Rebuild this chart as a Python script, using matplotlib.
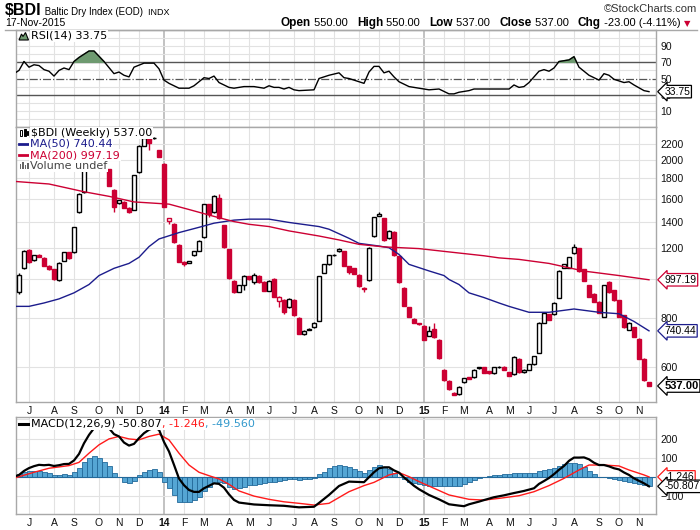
import numpy as np
import pandas as pd
import matplotlib
matplotlib.use('Agg')
import matplotlib.pyplot as plt
import matplotlib.transforms as mtrans
from matplotlib.patches import Polygon, Rectangle
from matplotlib.lines import Line2D
from matplotlib.ticker import NullLocator, NullFormatter

plt.rcParams['font.family'] = ['Liberation Sans', 'DejaVu Sans']

# weekly bars, June 2013 .. Nov 2015
weeks = pd.date_range('2013-06-17', periods=127, freq='W-MON')

opens = [926, 1065, 1185, 1116, 1155, 1135, 1080, 1060, 995, 1115,
         1170, 1170, 1479, 1662, 1902, 1985, 2110, 1984, 1902, 1682,
         1562, 1570, 1515, 1500, 1866, 2178, 2290, 2275, 2127, 1960,
         1402, 1378, 1219, 1105, 1100, 1150, 1180, 1277, 1550, 1479,
         1605, 1370, 1191, 990, 930, 965, 1017, 983, 1020, 985,
         935, 1000, 880, 888, 850, 888, 799, 725, 745, 755,
         786, 1039, 1091, 1150, 1177, 1177, 1080, 1065, 1028, 953,
         995, 1285, 1450, 1427, 1270, 1320, 1143, 953, 850, 795,
         775, 763, 720, 750, 703, 590, 553, 515, 512, 548,
         565, 565, 595, 598, 585, 578, 598, 600, 582, 576,
         630, 582, 590, 610, 651, 776, 815, 815, 899, 1070,
         1070, 1164, 1198, 1060, 965, 920, 878, 804, 983, 940,
         885, 810, 744, 755, 708, 630, 550]
highs = [1035, 1185, 1190, 1155, 1160, 1140, 1085, 1062, 1105, 1175,
         1175, 1360, 1650, 1910, 1990, 2115, 2115, 1990, 1905, 1690,
         1590, 1575, 1520, 1840, 2185, 2337, 2295, 2290, 2130, 1965,
         1430, 1385, 1225, 1115, 1115, 1180, 1255, 1555, 1555, 1630,
         1640, 1375, 1195, 995, 968, 1025, 1020, 1035, 1025, 990,
         995, 1005, 905, 890, 895, 890, 802, 742, 752, 780,
         1020, 1095, 1152, 1158, 1200, 1180, 1082, 1068, 1030, 956,
         1205, 1440, 1484, 1430, 1330, 1325, 1145, 955, 852, 798,
         776, 765, 763, 776, 705, 592, 555, 518, 537, 564,
         567, 592, 600, 600, 587, 600, 603, 602, 584, 640,
         633, 592, 612, 641, 780, 826, 818, 876, 1055, 1095,
         1140, 1227, 1200, 1063, 968, 922, 880, 968, 990, 942,
         887, 812, 778, 757, 710, 632, 550]
lows = [920, 1060, 1100, 1112, 1138, 1078, 1058, 998, 990, 1112,
        1128, 1165, 1475, 1655, 1900, 1980, 1990, 1900, 1720, 1479,
        1555, 1512, 1476, 1495, 1860, 2175, 2130, 2270, 2040, 1520,
        1378, 1238, 1105, 1080, 1098, 1148, 1178, 1272, 1440, 1475,
        1425, 1200, 1002, 924, 928, 940, 998, 975, 980, 932,
        932, 900, 850, 815, 848, 808, 726, 722, 743, 752,
        783, 1036, 1088, 1148, 1175, 1078, 1030, 1030, 958, 926,
        992, 1282, 1445, 1252, 1265, 1148, 980, 855, 802, 774,
        768, 700, 718, 712, 630, 554, 525, 509, 509, 546,
        558, 563, 594, 578, 576, 576, 597, 588, 568, 574,
        580, 580, 588, 608, 649, 774, 788, 812, 896, 1066,
        1066, 1160, 1045, 988, 902, 876, 821, 802, 924, 882,
        802, 753, 742, 714, 628, 554, 537]
closes = [1028, 1177, 1103, 1150, 1140, 1080, 1060, 1000, 1100, 1170,
          1130, 1354, 1642, 1902, 1985, 2110, 1993, 1902, 1723, 1524,
          1586, 1515, 1479, 1836, 2178, 2280, 2220, 2280, 2044, 1524,
          1427, 1241, 1109, 1095, 1110, 1177, 1250, 1550, 1465, 1625,
          1427, 1205, 1005, 926, 965, 1020, 1000, 1028, 983, 935,
          990, 904, 900, 828, 893, 810, 728, 740, 750, 776,
          1017, 1091, 1150, 1155, 1190, 1080, 1046, 1033, 960, 945,
          1200, 1437, 1465, 1255, 1325, 1150, 983, 858, 804, 776,
          770, 703, 740, 715, 632, 556, 527, 509, 535, 562,
          560, 590, 598, 580, 578, 598, 601, 590, 570, 636,
          582, 590, 610, 638, 776, 823, 790, 873, 1052, 1091,
          1137, 1205, 1052, 990, 904, 878, 823, 965, 926, 885,
          804, 755, 776, 716, 630, 556, 537]

ma50_wk = [-1, 2, 5, 8, 11, 14, 16, 19, 22, 24, 26, 28, 32, 36, 39, 43, 46, 50, 54, 60,
           62, 66, 68, 72, 74, 76, 78, 82, 85, 86, 88, 90, 93, 96, 98, 102, 106, 111, 116, 120,
           123, 126]
ma50_val = [854, 854, 871, 892, 924, 970, 1022, 1066, 1097, 1137, 1210, 1265, 1313, 1354, 1387, 1412, 1420, 1420, 1393, 1360,
            1339, 1270, 1233, 1214, 1202, 1156, 1091, 1050, 1022, 999, 970, 924, 899, 871, 854, 825, 825, 841, 825, 818,
            782, 740.44]
ma200_wk = [-1, 6, 13, 18, 23, 30, 34, 39, 43, 46, 50, 54, 60, 64, 68, 73, 80, 86, 93, 96,
            100, 106, 113, 120, 126]
ma200_val = [1770, 1743, 1666, 1622, 1570, 1550, 1502, 1443, 1400, 1378, 1360, 1326, 1287, 1258, 1226, 1208, 1196, 1173, 1147, 1133,
             1123, 1097, 1049, 1022, 997.19]

rsi_wk = [-1, 0, 1, 2, 3, 4, 5, 6, 7, 8, 9, 10, 11, 12, 13, 14, 15, 17, 19, 20,
          21, 22, 23, 25, 26, 27, 28, 29, 30, 32, 34, 35, 37, 38, 39, 40, 42, 43, 45, 47,
          49, 50, 51, 52, 53, 54, 55, 56, 59, 60, 62, 64, 65, 66, 67, 69, 70, 71, 72, 73,
          74, 75, 76, 78, 80, 82, 84, 86, 87, 88, 90, 91, 94, 96, 98, 99, 100, 101, 102, 104,
          105, 106, 107, 108, 110, 111, 112, 113, 114, 116, 117, 118, 119, 121, 122, 123, 125, 126]
rsi_val = [56, 60, 71, 64, 67, 66, 61, 59, 53, 60, 63, 61, 71, 76, 80, 84, 84, 71, 56, 58,
           54, 52, 64, 69, 69, 69, 62, 48, 44, 38, 38, 41, 51, 50, 53, 45, 39, 38, 40, 40,
           38, 41, 39, 39, 37, 39, 36, 35, 36, 50, 54, 57, 51, 50, 48, 44, 58, 65, 65, 57,
           59, 52, 46, 40, 38, 36, 37, 31, 31, 33, 35, 37, 37, 37, 37, 42, 39, 40, 45, 59,
           61, 59, 63, 71, 73, 77, 64, 59, 54, 48, 56, 54, 49, 45, 46, 42, 35, 33.75]

macd_wk = list(range(-1, 45)) + [47, 50, 53, 56, 59, 60, 62, 64, 66, 68,
           69, 70, 71, 72, 73, 74, 75, 76, 77, 78, 79, 80, 82, 84, 86, 88, 89, 90, 92, 93,
           95, 97, 99, 101, 103, 104, 105, 106, 107, 108] + list(range(109, 127))
macd_val = [0, 9, 30, 45, 55, 62, 60, 62, 56, 60, 66, 67, 85, 119, 175, 219, 254, 263, 262, 254,
            223, 211, 179, 163, 172, 202, 228, 246, 257, 246, 182, 132, 62, -10, -45, -70, -80, -80, -61, -48,
            -35, -38, -58, -93, -122, -136, -146, -150, -153, -161, -158, -138, -96, -49, -26, -28,
            -29, -3, 23, 44, 49, 49, 33, 21, -4, -26, -48, -66, -96, -119, -145, -152, -155, -145, -131, -123,
            -108, -98, -86, -75, -61, -38, -23, -7, 13, 36,
            56, 83, 100, 100, 101, 91, 73, 61, 61, 54, 44, 38, 22, 9, -9, -22, -35, -50.807]
signal_wk = [-1, 3, 6, 10, 12, 14, 16, 18, 20, 22, 24, 26, 28, 30, 32, 34, 36, 38, 40, 42,
             44, 47, 50, 53, 56, 59, 62, 66, 69, 71, 74, 76, 78, 80, 83, 86, 90, 93, 96, 100,
             103, 106, 109, 112, 114, 117, 120, 122, 125, 126]
signal_val = [-8, 23, 44, 58, 75, 123, 167, 198, 211, 198, 193, 211, 223, 193, 123, 61, 23, 5, -12, -40,
              -75, -102, -119, -132, -140, -149, -140, -79, -47, -30, 9, 21, 0, -26, -61, -96, -119, -123, -114, -100,
              -79, -47, -9, 35, 61, 61, 56, 35, 9, -1.246]
hist_val = [12, 23, 30, 32, 32, 23, 18, 9, 9, 12,
            9, 23, 44, 75, 96, 109, 96, 79, 56, 18,
            0, -26, -35, -23, 9, 26, 35, 40, 23, -26,
            -61, -96, -132, -135, -132, -123, -105, -75, -53, -32,
            -26, -32, -53, -65, -61, -53, -44, -44, -40, -35,
            -26, -26, -21, -18, -14, -12, -18, -14, -12, -9,
            12, 26, 44, 56, 61, 58, 53, 40, 30, 18,
            35, 53, 61, 53, 40, 18, 0, -14, -26, -35,
            -40, -44, -47, -47, -47, -49, -49, -49, -47, -40,
            -26, -18, -9, 0, 5, 9, 9, 12, 14, 18,
            18, 18, 18, 18, 30, 35, 40, 47, 58, 65,
            70, 70, 65, 53, 30, 12, 0, 0, -5, -12,
            -18, -23, -26, -35, -40, -44, -49.56]

RED = '#cc0033'
BLUE = '#1c1c8c'
GRID = '#e2e2e2'
YEARGRID = '#b8b8b8'

W, H = 700, 530
fig = plt.figure(figsize=(W / 100, H / 100), dpi=100)
renderer = fig.canvas.get_renderer()


def panel(top, bottom, left=16, right=656):
    return fig.add_axes([left / W, 1 - bottom / H, (right - left) / W, (bottom - top) / H])


def px(x, y):
    return (x / W, 1 - y / H)


x = np.arange(len(weeks))
starts = [i for i in range(1, len(weeks)) if weeks[i].month != weeks[i - 1].month]
mlabels = [str(weeks[i].year)[2:] if weeks[i].month == 1 else weeks[i].strftime('%b')[0] for i in starts]


def style(ax, labels=True):
    ax.set_xlim(-0.6, 127.4)
    for s in ax.spines.values():
        s.set_color('#a8a8a8')
        s.set_linewidth(1)
    ax.set_xticks(starts)
    ax.set_xticklabels(mlabels if labels else [])
    for t in ax.get_xticklabels():
        if t.get_text().isdigit():
            t.set_fontweight('bold')
            t.set_fontsize(8.5)
    ax.yaxis.tick_right()
    ax.tick_params(axis='both', length=0, labelsize=7.5, colors='#111111', pad=3)
    for i in starts:
        yr = weeks[i].month == 1
        ax.axvline(i, color=YEARGRID if yr else GRID, lw=1.2 if yr else 0.8, zorder=0)


def value_box(ax, y, txt, ec, bold=False, size=7.5):
    tr = mtrans.blended_transform_factory(ax.transAxes, ax.transData)
    ax.text(1.013, y, txt, transform=tr, fontsize=size, va='center', ha='left',
            fontweight='bold' if bold else 'normal', color='black', clip_on=False, zorder=10,
            bbox=dict(boxstyle='larrow,pad=0.12', fc='white', ec=ec, lw=0.9))


def run(x0, y0, parts, va='center', gap=0):
    cur = x0
    out = []
    for s, kw in parts:
        t = fig.text(cur / W, 1 - y0 / H, s, va=va, **kw)
        out.append(t)
        cur = t.get_window_extent(renderer).x1 + gap
    return cur, out


def run_right(x1, y0, parts, va='baseline', gap=0):
    end, texts = run(0, y0, parts, va=va, gap=gap)
    shift = x1 - (end - gap)
    for t in texts:
        xx, yy = t.get_position()
        t.set_x(xx + shift / W)


# header rule across the page
fig.add_artist(Line2D([5 / W, 697 / W], [1 - 29.5 / H] * 2, color='#a8a8a8', lw=1, transform=fig.transFigure))

# ---------------- RSI ----------------
ax_rsi = panel(30, 127)
style(ax_rsi, labels=False)
ax_rsi.set_ylim(-10, 110)
for v in range(0, 101, 10):
    if v in (30, 70):
        ax_rsi.axhline(v, color='#555555', lw=1, zorder=1)
    elif v == 50:
        ax_rsi.axhline(v, color='#555555', lw=0.9, ls='-.', zorder=1)
    else:
        ax_rsi.axhline(v, color=GRID, lw=0.8, zorder=0)
ax_rsi.set_yticks([10, 30, 50, 70, 90])
rw = np.array(rsi_wk, float)
rv = np.array(rsi_val, float)
ax_rsi.fill_between(rw, rv, 70, where=rv > 70, interpolate=True, color='#6e9a70', zorder=2)
ax_rsi.plot(rw, rv, color='black', lw=1, zorder=3)
value_box(ax_rsi, 33.75, '33.75', 'black')

# ---------------- price ----------------
ax_p = panel(127, 402)
style(ax_p)
ax_p.set_yscale('log')
ax_p.set_ylim(489, 2430)
ax_p.yaxis.set_minor_locator(NullLocator())
ax_p.yaxis.set_minor_formatter(NullFormatter())
for v in [600, 800, 1000, 1200, 1400, 1600, 1800, 2000, 2200]:
    ax_p.axhline(v, color=GRID, lw=0.8, zorder=0)
pticks = [600, 800, 1200, 1400, 1600, 1800, 2000, 2200]
ax_p.set_yticks(pticks)
ax_p.set_yticklabels([str(v) for v in pticks])

o = np.array(opens, float)
c = np.array(closes, float)
prev = np.concatenate([[c[0]], c[:-1]])
cols = [RED if c[i] < prev[i] else 'black' for i in range(len(c))]
faces = ['white' if c[i] >= o[i] else cols[i] for i in range(len(c))]
ax_p.vlines(x, lows, highs, colors=cols, lw=1, zorder=2)
bot = np.minimum(o, c)
hgt = np.maximum(np.abs(c - o), 1.0)
ax_p.bar(x, hgt, width=0.72, bottom=bot, color=faces, edgecolor=cols, lw=1, zorder=3)

ax_p.plot(ma50_wk, ma50_val, color=BLUE, lw=1, zorder=4)
ax_p.plot(ma200_wk, ma200_val, color=RED, lw=1, zorder=4)
value_box(ax_p, 997.19, '997.19', RED)
value_box(ax_p, 740.44, '740.44', BLUE)
value_box(ax_p, 537.0, '537.00', 'black', bold=True, size=8)

# ---------------- MACD ----------------
ax_m = panel(417, 514)
style(ax_m)
ax_m.set_ylim(-196, 313)
for v in [-100, 0, 100, 200, 300]:
    ax_m.axhline(v, color=GRID, lw=0.8, zorder=0)
ax_m.set_yticks([-100, 100, 200])
ax_m.bar(x, hist_val, width=1.0, color='#55a6d4', edgecolor='#23699a', lw=0.6, zorder=2)
ax_m.axhline(0, color='#23699a', lw=0.8, zorder=2)
ax_m.plot(signal_wk, signal_val, color='#ff1a1a', lw=1, zorder=3)
ax_m.plot(macd_wk, macd_val, color='black', lw=1.6, zorder=4)
value_box(ax_m, -1.246, '-1.246', '#ff1a1a')
value_box(ax_m, -50.807, '-50.807', 'black')

# ---------------- legends inside panels ----------------
wb = dict(fc='white', ec='none', pad=0.6)
lf = dict(family='DejaVu Sans', fontsize=8)

fig.add_artist(Polygon([px(19, 40), px(21.5, 34), px(23, 36.5), px(25.5, 32.5), px(28.5, 40)],
                       closed=True, fc='#6e9a70', ec='black', lw=0.8, transform=fig.transFigure))
fig.text(*px(31, 36), 'RSI(14) 33.75', va='center', color='black', bbox=wb, **lf)

fig.text(*px(31, 133), '$BDI (Weekly) 537.00', va='center', color='black', bbox=wb, **lf)
fig.text(*px(30, 144), 'MA(50) 740.44', va='center', color=BLUE, bbox=wb, **lf)
fig.text(*px(30, 155), 'MA(200) 997.19', va='center', color=RED, bbox=wb, **lf)
fig.text(*px(30, 166), 'Volume undef', va='center', color='#444444', bbox=wb, **lf)
for (x0, y0, w0, h0, fc) in [(19.5, 130, 2.2, 6, 'white'), (23.5, 129, 2.2, 7, 'black'), (26.5, 131, 1.5, 4, 'black')]:
    fig.add_artist(Rectangle(px(x0, y0 + h0), w0 / W, h0 / H, fc=fc, ec='black', lw=0.7,
                             transform=fig.transFigure))
fig.add_artist(Line2D([19 / W, 28 / W], [1 - 144 / H] * 2, color=BLUE, lw=2, transform=fig.transFigure))
fig.add_artist(Line2D([19 / W, 28 / W], [1 - 155 / H] * 2, color=RED, lw=2, transform=fig.transFigure))
for (x0, h0) in [(19.5, 5), (22, 7), (24.5, 4), (27, 6)]:
    fig.add_artist(Rectangle(px(x0, 169), 1.8 / W, h0 / H, fc='#666666', ec='none', transform=fig.transFigure))

fig.add_artist(Line2D([19 / W, 28 / W], [1 - 424 / H] * 2, color='black', lw=2.2, transform=fig.transFigure))
run(31, 424, [('MACD(12,26,9) -50.807', dict(color='black', bbox=wb, **lf)),
              (', -1.246', dict(color='#ff1a1a', bbox=wb, **lf)),
              (', -49.560', dict(color='#3399cc', bbox=wb, **lf))])

# ---------------- header ----------------
run(5, 15, [('$BDI', dict(fontsize=11.5, fontweight='bold')),
            (' Baltic Dry Index (EOD)', dict(fontsize=7)),
            ('  INDX', dict(fontsize=6.5))], va='baseline')
fig.text(*px(5, 26), '17-Nov-2015', va='baseline', fontsize=7.5)
fig.text(*px(697, 12), '\u00a9StockCharts.com', fontsize=8, va='baseline', ha='right', color='#333333')
b = dict(fontsize=8.5, fontweight='bold')
n = dict(fontsize=8)
run_right(690, 26, [('Open', b), (' 550.00   ', n), ('High', b), (' 550.00   ', n), ('Low', b), (' 537.00   ', n),
                    ('Close', b), (' 537.00   ', n), ('Chg', b), (' -23.00 (-4.11%) ', n),
                    ('\u25bc', dict(fontsize=6, color=RED, family='DejaVu Sans'))])

fig.savefig('out.png', dpi=100)
